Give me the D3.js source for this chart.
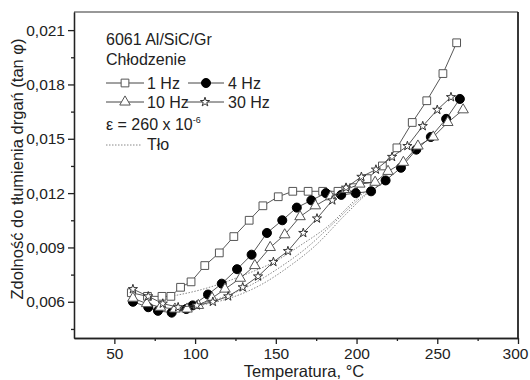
<!DOCTYPE html>
<html>
<head>
<meta charset="utf-8">
<script src="https://cdn.jsdelivr.net/npm/d3@7"></script>
<style>
  body { margin: 0; background: #fff; }
  svg { display: block; font-family: "Liberation Sans", Arial, sans-serif; }
</style>
</head>
<body>
<div id="chart"></div>
<script>
// temperature (°C) and damping (tan phi)
var temp1 = [60.5, 70.5, 79.5, 85, 91, 97.5, 106, 115, 124, 133.5, 142, 151.5, 160.5, 170, 179, 188.5, 198, 206.5, 216, 225, 234.5, 243.5, 253.5, 262];
var damp1 = [0.0065, 0.0063, 0.0063, 0.0063, 0.0068, 0.0071, 0.0080, 0.0087, 0.0096, 0.0105, 0.0113, 0.0118, 0.0121, 0.0121, 0.0121, 0.0121, 0.0123, 0.0128, 0.0135, 0.0145, 0.0159, 0.0171, 0.0186, 0.0203];

var temp4 = [61.5, 71, 77, 85.5, 94.5, 98.5, 108, 116.5, 126, 135, 144.5, 154, 163, 172, 181, 190.5, 199.5, 209, 218, 227.5, 237, 246, 255.5, 264];
var damp4 = [0.0060, 0.0057, 0.0055, 0.0054, 0.0056, 0.0058, 0.0064, 0.0070, 0.0078, 0.0086, 0.0098, 0.0105, 0.0112, 0.0116, 0.0120, 0.0119, 0.0120, 0.0121, 0.0127, 0.0134, 0.0144, 0.0151, 0.0161, 0.0172];

var temp10 = [61.5, 70, 78.5, 87.5, 95, 102, 110.5, 118.5, 128, 137, 146.5, 155.5, 165, 174.5, 184, 193.5, 202, 211.5, 219.5, 229, 238, 247.5, 256.5, 266];
var damp10 = [0.0062, 0.0059, 0.0057, 0.0056, 0.0056, 0.0058, 0.0062, 0.0067, 0.0073, 0.0080, 0.0090, 0.0097, 0.0107, 0.0113, 0.0118, 0.0122, 0.0125, 0.0126, 0.0132, 0.0137, 0.0146, 0.0151, 0.0159, 0.0166];

var temp30 = [61.5, 71, 80, 89.5, 101, 111, 120.5, 129.5, 139, 148.5, 157.5, 167, 175.5, 185, 193.5, 203, 212, 222, 231.5, 241, 250, 258.5];
var damp30 = [0.0067, 0.0063, 0.0059, 0.0057, 0.0058, 0.0060, 0.0063, 0.0068, 0.0074, 0.0082, 0.0088, 0.0098, 0.0106, 0.0116, 0.0123, 0.0129, 0.0133, 0.0140, 0.0146, 0.0157, 0.0166, 0.0173];

// background (Tło) curves
var bgTemp1 = [85, 103, 128, 151, 165, 184, 199, 207];
var bgDamp1 = [0.0063, 0.00665, 0.0074, 0.0083, 0.0091, 0.0103, 0.0116, 0.0122];
var bgTemp2 = [97, 115.5, 134, 152.5, 168, 186.5, 202, 211.5];
var bgDamp2 = [0.0058, 0.0062, 0.0069, 0.0079, 0.0089, 0.0104, 0.0117, 0.0123];
var bgTemp3 = [103, 121.5, 140, 159, 174.5, 193, 208.5, 217.5];
var bgDamp3 = [0.0058, 0.0062, 0.0069, 0.0080, 0.0091, 0.0108, 0.0121, 0.0126];

var xTicks = [50, 100, 150, 200, 250, 300];
var xMinor = [75, 125, 175, 225, 275];
var yTicks = [0.006, 0.009, 0.012, 0.015, 0.018, 0.021];
var yMinor = [0.0045, 0.0075, 0.0105, 0.0135, 0.0165, 0.0195];

var width = 530, height = 380,
    margin = {top: 12, right: 12, bottom: 42, left: 74},
    innerWidth = width - margin.left - margin.right,
    innerHeight = height - margin.top - margin.bottom;

var x = d3.scaleLinear().domain([25, 300]).range([0, innerWidth]);
var y = d3.scaleLinear().domain([0.004, 0.022]).range([innerHeight, 0]);

var svg = d3.select("#chart").append("svg")
    .attr("width", width)
    .attr("height", height);

var g = svg.append("g")
    .attr("transform", "translate(" + margin.left + "," + margin.top + ")");

function zip(a, b) { return a.map(function(v, i) { return [v, b[i]]; }); }

var fmt = function(d) { return d3.format(".3f")(d).replace(".", ","); };

// axes
var xAx = g.append("g").attr("transform", "translate(0," + innerHeight + ")")
    .call(d3.axisBottom(x).tickValues(xTicks).tickSize(6).tickPadding(4).tickSizeOuter(0));
g.append("g").attr("transform", "translate(0," + innerHeight + ")")
    .call(d3.axisBottom(x).tickValues(xMinor).tickSize(3).tickFormat("").tickSizeOuter(0));
g.append("g")
    .call(d3.axisLeft(y).tickValues(yTicks).tickSize(6).tickPadding(3).tickFormat(fmt).tickSizeOuter(0));
g.append("g")
    .call(d3.axisLeft(y).tickValues(yMinor).tickSize(3).tickFormat("").tickSizeOuter(0));

g.selectAll(".tick text").attr("font-size", 15.5).attr("fill", "#222")
    .attr("font-family", "Liberation Sans, Arial, sans-serif");
g.selectAll(".domain, .tick line").attr("stroke", "#222").attr("stroke-width", 1.3);

// keep the last x label inside the window
xAx.selectAll(".tick text").filter(function(d) { return d === 300; }).attr("dx", -3);

// frame top and right
g.append("line").attr("x1", 0).attr("x2", innerWidth).attr("y1", 0).attr("y2", 0)
    .attr("stroke", "#333").attr("stroke-width", 1.2);
g.append("line").attr("x1", innerWidth).attr("x2", innerWidth).attr("y1", 0).attr("y2", innerHeight)
    .attr("stroke", "#222").attr("stroke-width", 1.8);

// axis titles
svg.append("text")
    .attr("x", 304).attr("y", 377)
    .attr("text-anchor", "middle").attr("font-size", 16.5).attr("fill", "#222")
    .text("Temperatura, °C");
svg.append("text")
    .attr("transform", "translate(23,169) rotate(-90)")
    .attr("text-anchor", "middle").attr("font-size", 16.5).attr("fill", "#222")
    .text("Zdolność do tłumienia drgań (tan φ)");

// background lines
var bgLine = d3.line().x(function(d) { return x(d[0]); }).y(function(d) { return y(d[1]); })
    .curve(d3.curveMonotoneX);
[zip(bgTemp1, bgDamp1), zip(bgTemp2, bgDamp2), zip(bgTemp3, bgDamp3)].forEach(function(d) {
  g.append("path").attr("d", bgLine(d))
    .attr("fill", "none").attr("stroke", "#888").attr("stroke-width", 1)
    .attr("stroke-dasharray", "1.5,1.5");
});

var series = [
  {name: "1 Hz", t: temp1, v: damp1, sym: d3.symbolSquare, size: 60, fill: "#fff", stroke: "#555"},
  {name: "4 Hz", t: temp4, v: damp4, sym: d3.symbolCircle, size: 64, fill: "#000", stroke: "#000"},
  {name: "10 Hz", t: temp10, v: damp10, sym: d3.symbolTriangle, size: 48, fill: "#fff", stroke: "#555"},
  {name: "30 Hz", t: temp30, v: damp30, sym: d3.symbolStar, size: 26, fill: "#fff", stroke: "#333"}
];

var line = d3.line().x(function(d) { return x(d[0]); }).y(function(d) { return y(d[1]); });

series.forEach(function(s) {
  var pts = zip(s.t, s.v);
  g.append("path").attr("d", line(pts))
    .attr("fill", "none").attr("stroke", "#444").attr("stroke-width", 0.9);
  g.selectAll(null).data(pts).enter().append("path")
    .attr("transform", function(d) { return "translate(" + x(d[0]) + "," + y(d[1]) + ")"; })
    .attr("d", d3.symbol().type(s.sym).size(s.size))
    .attr("fill", s.fill).attr("stroke", s.stroke).attr("stroke-width", 1);
});

// legend
var leg = svg.append("g").attr("font-size", 16).attr("fill", "#222");
leg.append("text").attr("x", 106).attr("y", 45).text("6061 Al/SiC/Gr");
leg.append("text").attr("x", 106).attr("y", 65).text("Chłodzenie");

var legItems = [
  {s: series[0], x0: 106, x1: 144, tx: 147, cy: 83},
  {s: series[1], x0: 188, x1: 224, tx: 228, cy: 83},
  {s: series[2], x0: 106, x1: 144, tx: 147, cy: 102},
  {s: series[3], x0: 186, x1: 224, tx: 228, cy: 102}
];
legItems.forEach(function(it) {
  leg.append("line").attr("x1", it.x0).attr("x2", it.x1).attr("y1", it.cy).attr("y2", it.cy)
    .attr("stroke", "#444").attr("stroke-width", 1);
  leg.append("path")
    .attr("transform", "translate(" + ((it.x0 + it.x1) / 2) + "," + it.cy + ")")
    .attr("d", d3.symbol().type(it.s.sym).size(it.s.size))
    .attr("fill", it.s.fill).attr("stroke", it.s.stroke);
  leg.append("text").attr("x", it.tx).attr("y", it.cy + 6).text(it.s.name);
});

var eps = leg.append("text").attr("x", 106).attr("y", 130);
eps.append("tspan").text("ε = 260 x 10");
eps.append("tspan").attr("font-size", 9).attr("dy", -7).text("-6");

leg.append("line").attr("x1", 106).attr("x2", 142).attr("y1", 145).attr("y2", 145)
  .attr("stroke", "#888").attr("stroke-dasharray", "1.5,1.5");
leg.append("text").attr("x", 147).attr("y", 150).text("Tło");
</script>
</body>
</html>
